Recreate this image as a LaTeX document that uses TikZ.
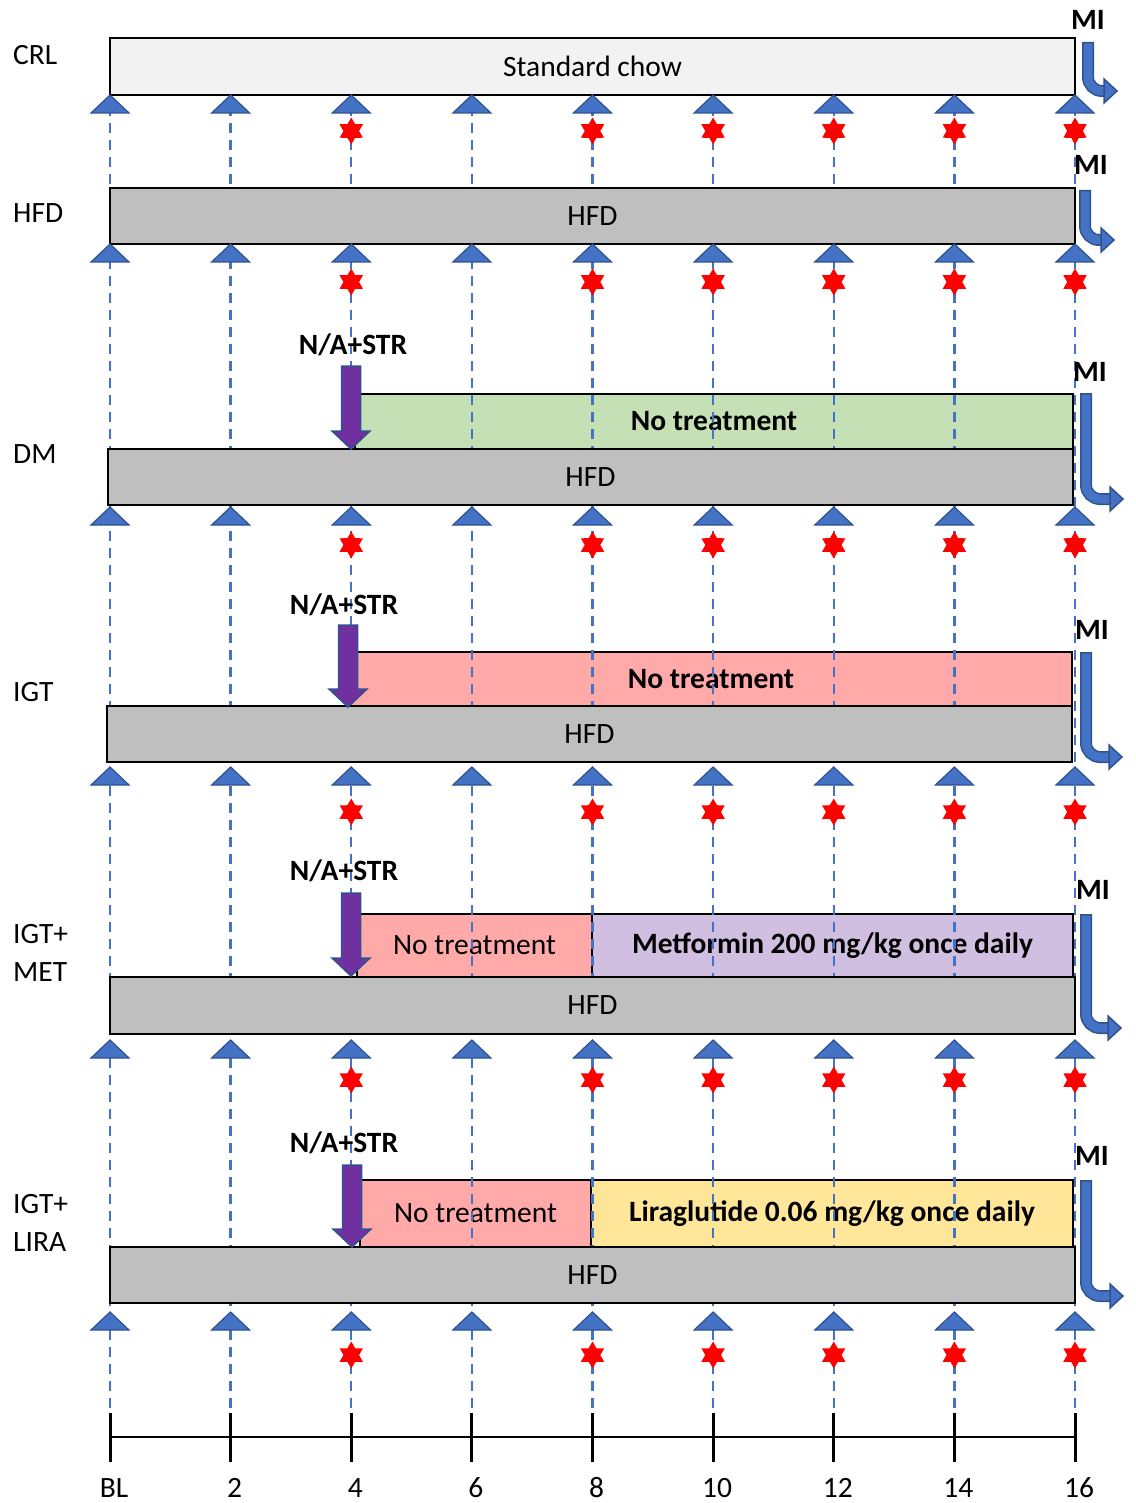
\documentclass[tikz,border=0pt]{standalone}
\usepackage{fontspec}
\setmainfont{Carlito}
\usetikzlibrary{calc,shapes.geometric}
\definecolor{tblue}{HTML}{4472C4}
\definecolor{tblueD}{HTML}{2F528F}
\definecolor{chow}{HTML}{F2F2F2}
\definecolor{hfdgray}{HTML}{BFBFBF}
\definecolor{notrtg}{HTML}{C5E0B4}
\definecolor{notrtp}{HTML}{FFA9A9}
\definecolor{metpur}{HTML}{D0BFE1}
\definecolor{liraye}{HTML}{FFE699}
\definecolor{napurple}{HTML}{7030A0}

\newcommand{\labfont}{\fontsize{29.5}{38}\selectfont}

% bent arrow towards MI: x, top, bottom, tip
\newcommand{\miarrow}[4]{%
  \draw[tblueD,line width=12pt] (#1,#2) -- (#1,{#3-14}) arc[start angle=180,end angle=270,radius=14pt] -- ({#4-12},#3);
  \draw[tblue,line width=9pt] (#1,{#2+1.5}) -- (#1,{#3-14}) arc[start angle=180,end angle=270,radius=14pt] -- ({#4-11},#3);
  \draw[tblueD,fill=tblue,line width=1.5pt] ({#4-13},{#3-12}) -- (#4,#3) -- ({#4-13},{#3+12}) -- cycle;
}
% N/A+STR arrow: x, top, tip
\newcommand{\naarrow}[3]{%
  \draw[tblueD,fill=napurple,line width=1.5pt] ({#1-9.5},#2) -- ({#1+9.5},#2) -- ({#1+9.5},{#3-18}) -- ({#1+19},{#3-18})
    -- (#1,#3) -- ({#1-19},{#3-18}) -- ({#1-9.5},{#3-18}) -- cycle;
}

\tikzset{
  bar/.style={draw=black,line width=2.5pt,inner sep=0pt},
  chowbar/.style={bar,fill=chow},
  hfdbar/.style={bar,fill=hfdgray,minimum width=965pt,minimum height=56pt},
  trt/.style={bar,font=\labfont\bfseries},
  grid/.style={tblue,line width=2.4pt,dash pattern=on 10pt off 7pt},
  tri/.style={tblueD,fill=tblue,line width=1.2pt,line join=miter},
  visit/.style={star,star points=6,star point ratio=1.73,fill=red,minimum size=27pt,inner sep=0pt},
  rowlab/.style={anchor=west,inner sep=0pt,align=left},
  mi/.style={font=\labfont\bfseries,inner sep=0pt},
  na/.style={font=\labfont\bfseries,inner sep=0pt}
}

\begin{document}
\begin{tikzpicture}[x=1pt,y=-1pt,font=\labfont]
\useasboundingbox (0,0) rectangle (1135,1503);

% treatment bars (grid lines run over them)
\node[trt,fill=notrtg,minimum width=718pt,minimum height=55pt] (dmnt) at (714,421.5) {No treatment};
\node[trt,fill=notrtp,minimum width=722pt,minimum height=54pt] (igtnt) at (711,679) {No treatment};
\node[bar,fill=notrtp,minimum width=235pt,minimum height=63pt] (metnt) at (474.5,945.5) {No treatment};
\node[trt,fill=metpur,minimum width=481pt,minimum height=63pt] (met) at (832.5,945.5) {Metformin 200 mg/kg once daily};
\node[bar,fill=notrtp,minimum width=231pt,minimum height=67pt] (lirant) at (475.5,1213.5) {No treatment};
\node[trt,fill=liraye,minimum width=482pt,minimum height=67pt] (lira) at (832,1213.5) {Liraglutide 0.06 mg/kg once daily};

% weeks: dashed grid and axis
\foreach \w/\lab in {0/BL,2/2,4/4,6/6,8/8,10/10,12/12,14/14,16/16}{
  \pgfmathsetmacro\gx{110+60.3125*\w}
  \coordinate (top\w) at (\gx,38);
  \coordinate (ax\w) at (\gx,1437);
  \draw[grid] (top\w) -- (ax\w);
  \draw[line width=3pt] (\gx,1413) -- (\gx,1462);
  \node (lab\w) at ({\gx+4},1488) {\lab};
}
\draw[line width=2pt] (ax0) -- (ax16);

% diet bars
\node[chowbar,minimum width=965pt,minimum height=57pt] (crl) at (592.5,66.5) {Standard chow};
\node[hfdbar] (hfd1) at (592.5,216) {HFD};
\node[hfdbar] (hfd2) at (590.5,477) {HFD};
\node[hfdbar] (hfd3) at (589.5,734) {HFD};
\node[hfdbar,minimum height=57pt] (hfd4) at (592.5,1005.5) {HFD};
\node[hfdbar] (hfd5) at (592.5,1275) {HFD};

% triangles and stars
\foreach \ty/\sy in {95/131,244/282,507/545,767/812,1040/1080,1312/1355}{
  \foreach \w in {0,2,...,16}{
    \pgfmathsetmacro\gx{110+60.3125*\w}
    \draw[tri] (\gx,\ty) -- ++(-19,18) -- ++(38,0) -- cycle;
  }
  \foreach \w in {4,6,...,16}{
    \pgfmathsetmacro\gx{110+60.3125*\w}
    \ifnum\w=6\else
      \node[visit] (s\w-\sy) at (\gx,\sy) {};
    \fi
  }
}

% induction arrows
\naarrow{351}{366}{449}
\naarrow{348}{625}{707}
\naarrow{351}{893}{976}
\naarrow{352}{1165}{1247}
\node[na] (na1) at (353,345) {N/A+STR};
\node[na] (na2) at (344,605) {N/A+STR};
\node[na] (na3) at (344,871) {N/A+STR};
\node[na] (na4) at (344,1143) {N/A+STR};

% MI
\miarrow{1088}{42}{91}{1117}
\miarrow{1085}{190}{240}{1114}
\miarrow{1086}{393}{499}{1123}
\miarrow{1086}{652}{757}{1122}
\miarrow{1086}{914}{1028}{1121}
\miarrow{1086}{1180}{1296}{1123}
\node[mi] (mi1) at (1088,20) {MI};
\node[mi] (mi2) at (1091,165) {MI};
\node[mi] (mi3) at (1090,372) {MI};
\node[mi] (mi4) at (1092,630) {MI};
\node[mi] (mi5) at (1093,890) {MI};
\node[mi] (mi6) at (1092,1156) {MI};

% groups
\node[rowlab] (gcrl) at (13,55) {CRL};
\node[rowlab] (ghfd) at (13,213) {HFD};
\node[rowlab] (gdm) at (13,454) {DM};
\node[rowlab] (gigt) at (13,692) {IGT};
\node[rowlab] (gmet) at (13,953) {IGT+\\MET};
\node[rowlab] (glira) at (13,1223) {IGT+\\LIRA};
\end{tikzpicture}
\end{document}
